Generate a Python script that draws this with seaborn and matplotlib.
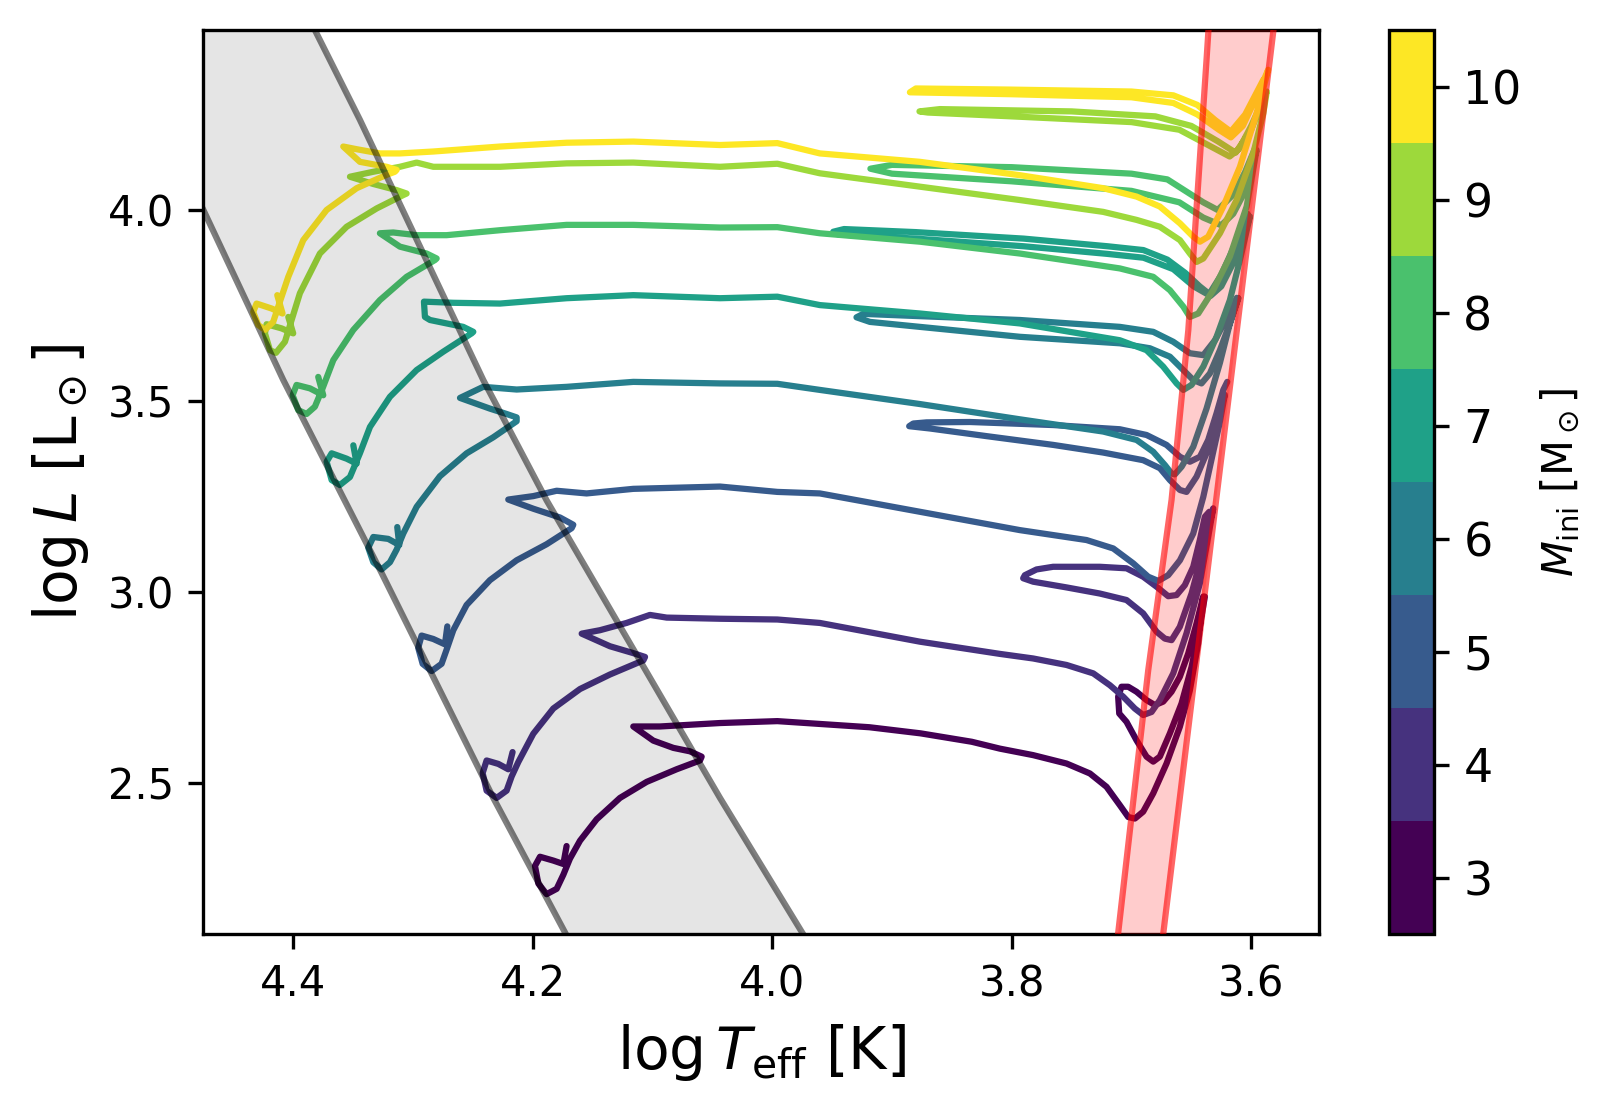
import matplotlib
matplotlib.use('Agg')
import matplotlib.pyplot as plt
import seaborn as sns
import pandas as pd
import numpy as np
from matplotlib.colors import BoundaryNorm
from matplotlib.cm import ScalarMappable

plt.rcParams['font.family'] = 'DejaVu Sans'
plt.rcParams['mathtext.fontset'] = 'dejavusans'
plt.rcParams['lines.solid_joinstyle'] = 'round'
plt.rcParams['lines.solid_capstyle'] = 'round'

# initial masses (Msun)
masses = [3, 4, 5, 6, 7, 8, 9, 10]

# evolutionary tracks: log Teff, log L
logT_3 = [4.1717, 4.1744, 4.1828, 4.1939, 4.1981, 4.1953, 4.1884, 4.1800, 4.1744, 4.1689, 4.1605, 4.1466,
          4.1271, 4.1048, 4.0798, 4.0603, 4.0589, 4.0687, 4.0826, 4.0993, 4.1160, 4.0937, 4.0659, 4.0436,
          3.9957, 3.9188, 3.8761, 3.8334, 3.8099, 3.7821, 3.7542, 3.7347, 3.7208, 3.7097, 3.7027, 3.6971,
          3.6902, 3.6818, 3.6707, 3.6596, 3.6512, 3.6443, 3.6401,
          3.6456, 3.6526, 3.6596, 3.6665, 3.6735, 3.6804, 3.6874, 3.6958, 3.7027, 3.7083, 3.7111, 3.7102,
          3.7041, 3.6958, 3.6874, 3.6818, 3.6763, 3.6679, 3.6582, 3.6498, 3.6429, 3.6387]
logL_3 = [2.335, 2.288, 2.297, 2.307, 2.283, 2.237, 2.209, 2.223, 2.260, 2.302, 2.349, 2.405,
          2.461, 2.503, 2.536, 2.559, 2.569, 2.583, 2.592, 2.611, 2.648, 2.648, 2.653, 2.657,
          2.662, 2.646, 2.630, 2.608, 2.590, 2.573, 2.551, 2.525, 2.490, 2.442, 2.411, 2.407,
          2.425, 2.473, 2.551, 2.647, 2.743, 2.865, 2.988,
          2.918, 2.839, 2.778, 2.739, 2.713, 2.704, 2.717, 2.739, 2.752, 2.752, 2.726, 2.682,
          2.660, 2.612, 2.569, 2.556, 2.569, 2.630, 2.708, 2.804, 2.909, 2.988]

logT_4 = [4.2168, 4.2204, 4.2287, 4.2385, 4.2418, 4.2385, 4.2301, 4.2218, 4.2176, 4.2120, 4.1995, 4.1828,
          4.1605, 4.1355, 4.1076, 4.1062, 4.1160, 4.1355, 4.1591, 4.1438, 4.1216, 4.1021, 4.0881, 4.0436,
          3.9957, 3.9602, 3.8767, 3.8099, 3.7821, 3.7542, 3.7319, 3.7180, 3.7069, 3.6972, 3.6902, 3.6832,
          3.6763, 3.6651, 3.6540, 3.6429, 3.6317,
          3.6401, 3.6498, 3.6596, 3.6665, 3.6721, 3.6790, 3.6902, 3.7041, 3.7264, 3.7542, 3.7821, 3.7904,
          3.7890, 3.7793, 3.7654, 3.7264, 3.7041, 3.6902, 3.6791, 3.6693, 3.6623, 3.6554, 3.6484, 3.6429,
          3.6387, 3.6350]
logL_4 = [2.581, 2.536, 2.550, 2.559, 2.526, 2.480, 2.461, 2.480, 2.517, 2.555, 2.629, 2.695,
          2.746, 2.784, 2.821, 2.830, 2.840, 2.858, 2.891, 2.900, 2.919, 2.940, 2.933, 2.930,
          2.928, 2.919, 2.870, 2.838, 2.826, 2.809, 2.787, 2.756, 2.726, 2.695, 2.678, 2.686,
          2.717, 2.787, 2.892, 3.022, 3.219,
          3.110, 2.996, 2.909, 2.874, 2.878, 2.896, 2.944, 2.979, 2.996, 3.012, 3.027, 3.036,
          3.044, 3.059, 3.066, 3.066, 3.062, 3.040, 3.014, 2.989, 2.992, 3.018, 3.066, 3.136,
          3.197, 3.210]

logT_5 = [4.2713, 4.2733, 4.2830, 4.2928, 4.2956, 4.2919, 4.2844, 4.2761, 4.2719, 4.2663, 4.2552, 4.2357,
          4.2134, 4.1884, 4.1675, 4.1661, 4.1772, 4.1995, 4.2204, 4.1995, 4.1800, 4.1550, 4.1160, 4.0436,
          3.9957, 3.9602, 3.8767, 3.7932, 3.7375, 3.7152, 3.6985, 3.6860, 3.6776, 3.6693, 3.6595, 3.6484,
          3.6400, 3.6320, 3.6265, 3.6220,
          3.6289, 3.6373, 3.6456, 3.6540, 3.6595, 3.6679, 3.6762, 3.6902, 3.7236, 3.7653, 3.8210, 3.8683,
          3.8856, 3.8822, 3.8711, 3.8349, 3.7653, 3.7097, 3.6874, 3.6707, 3.6595, 3.6512, 3.6428, 3.6359,
          3.6289, 3.6233, 3.6200]
logL_5 = [2.910, 2.863, 2.877, 2.886, 2.854, 2.812, 2.793, 2.812, 2.849, 2.900, 2.966, 3.031,
          3.083, 3.125, 3.167, 3.176, 3.195, 3.218, 3.242, 3.251, 3.265, 3.258, 3.270, 3.276,
          3.262, 3.258, 3.210, 3.162, 3.136, 3.114, 3.075, 3.040, 3.029, 3.044, 3.083, 3.153,
          3.249, 3.363, 3.440, 3.516,
          3.450, 3.363, 3.302, 3.262, 3.267, 3.293, 3.324, 3.345, 3.365, 3.385, 3.408, 3.428,
          3.434, 3.441, 3.444, 3.445, 3.437, 3.426, 3.411, 3.385, 3.354, 3.341, 3.354, 3.398,
          3.468, 3.529, 3.550]

logT_6 = [4.3131, 4.3114, 4.3206, 4.3331, 4.3373, 4.3331, 4.3262, 4.3192, 4.3136, 4.3081, 4.2969, 4.2775,
          4.2552, 4.2329, 4.2134, 4.2134, 4.2218, 4.2357, 4.2607, 4.2413, 4.2134, 4.1717, 4.1160, 4.0436,
          3.9957, 3.9602, 3.8767, 3.7932, 3.7236, 3.6957, 3.6818, 3.6720, 3.6665, 3.6637, 3.6581, 3.6484,
          3.6373, 3.6261, 3.6178, 3.6108,
          3.6178, 3.6261, 3.6345, 3.6415, 3.6484, 3.6567, 3.6679, 3.6846, 3.7097, 3.7932, 3.8767, 3.9184,
          3.9296, 3.9240, 3.8767, 3.7932, 3.7097, 3.6818, 3.6651, 3.6512, 3.6400, 3.6300, 3.6200, 3.6120]
logL_6 = [3.170, 3.123, 3.139, 3.144, 3.116, 3.078, 3.059, 3.078, 3.111, 3.153, 3.223, 3.303,
          3.363, 3.405, 3.447, 3.457, 3.466, 3.480, 3.508, 3.537, 3.530, 3.537, 3.550, 3.546,
          3.545, 3.529, 3.492, 3.452, 3.420, 3.398, 3.367, 3.332, 3.310, 3.308, 3.328, 3.380,
          3.480, 3.600, 3.703, 3.769,
          3.703, 3.633, 3.572, 3.546, 3.555, 3.581, 3.616, 3.638, 3.651, 3.668, 3.694, 3.707,
          3.719, 3.728, 3.722, 3.712, 3.694, 3.681, 3.655, 3.625, 3.620, 3.660, 3.720, 3.770]

logT_7 = [4.3498, 4.3470, 4.3554, 4.3679, 4.3721, 4.3679, 4.3610, 4.3526, 4.3443, 4.3359, 4.3192, 4.2969,
          4.2747, 4.2510, 4.2496, 4.2580, 4.2858, 4.2900, 4.2908, 4.2663, 4.2273, 4.1717, 4.1160, 4.0436,
          3.9957, 3.9602, 3.8767, 3.7932, 3.7097, 3.6874, 3.6735, 3.6623, 3.6567, 3.6498, 3.6400, 3.6289,
          3.6178, 3.6094, 3.6011,
          3.6120, 3.6250, 3.6340, 3.6480, 3.6650, 3.6900, 3.7200, 3.7900, 3.8800, 3.9450, 3.9490, 3.9400,
          3.8800, 3.7900, 3.7200, 3.6900, 3.6700, 3.6550, 3.6430, 3.6350, 3.6250, 3.6120, 3.6030]
logL_7 = [3.384, 3.336, 3.349, 3.363, 3.341, 3.293, 3.280, 3.301, 3.363, 3.432, 3.511, 3.581,
          3.629, 3.677, 3.681, 3.694, 3.712, 3.720, 3.760, 3.757, 3.755, 3.769, 3.777, 3.769,
          3.773, 3.751, 3.729, 3.703, 3.659, 3.633, 3.590, 3.546, 3.529, 3.542, 3.590, 3.668,
          3.764, 3.869, 3.983,
          3.880, 3.800, 3.775, 3.800, 3.845, 3.875, 3.885, 3.905, 3.925, 3.936, 3.943, 3.950,
          3.942, 3.925, 3.905, 3.895, 3.870, 3.835, 3.800, 3.780, 3.830, 3.920, 3.990]

logT_8 = [4.3791, 4.3749, 4.3860, 4.3972, 4.4005, 4.3958, 4.3888, 4.3819, 4.3755, 4.3665, 4.3498, 4.3276,
          4.3053, 4.2816, 4.2802, 4.2886, 4.3109, 4.3276, 4.3164, 4.2969, 4.2719, 4.2273, 4.1717, 4.1160,
          4.0436, 3.9957, 3.9602, 3.8767, 3.7932, 3.7097, 3.6818, 3.6679, 3.6567, 3.6512, 3.6442, 3.6317,
          3.6178, 3.6038, 3.5955,
          3.6050, 3.6150, 3.6250, 3.6400, 3.6600, 3.7000, 3.8000, 3.9000, 3.9180, 3.9000, 3.8000, 3.7000,
          3.6700, 3.6550, 3.6400, 3.6280, 3.6150, 3.6050, 3.5970]
logL_8 = [3.563, 3.515, 3.533, 3.542, 3.515, 3.476, 3.466, 3.485, 3.533, 3.607, 3.686, 3.764,
          3.825, 3.869, 3.873, 3.886, 3.904, 3.939, 3.941, 3.934, 3.934, 3.947, 3.961, 3.961,
          3.954, 3.955, 3.939, 3.917, 3.886, 3.847, 3.825, 3.790, 3.747, 3.720, 3.729, 3.790,
          3.878, 4.009, 4.157,
          4.050, 3.990, 3.960, 3.980, 4.020, 4.050, 4.075, 4.095, 4.108, 4.118, 4.112, 4.095,
          4.080, 4.050, 4.020, 4.000, 4.040, 4.100, 4.160]

logT_9 = [4.4041, 4.4000, 4.4097, 4.4222, 4.4236, 4.4194, 4.4144, 4.4069, 4.4022, 4.3944, 4.3777, 4.3554,
          4.3303, 4.3081, 4.3053, 4.3136, 4.3331, 4.3526, 4.3331, 4.3109, 4.2969, 4.2830, 4.2273, 4.1717,
          4.1160, 4.0436, 3.9957, 3.9602, 3.8767, 3.7932, 3.7236, 3.6957, 3.6763, 3.6595, 3.6512, 3.6456,
          3.6400, 3.6261, 3.6122, 3.5983, 3.5899, 3.5870,
          3.6000, 3.6100, 3.6180, 3.6300, 3.6600, 3.7000, 3.8000, 3.8700, 3.8770, 3.8600, 3.7500, 3.6800,
          3.6500, 3.6280, 3.6130, 3.6000, 3.5900]
logL_9 = [3.720, 3.677, 3.690, 3.701, 3.677, 3.633, 3.626, 3.655, 3.703, 3.782, 3.886, 3.956,
          4.004, 4.039, 4.043, 4.052, 4.068, 4.087, 4.100, 4.113, 4.124, 4.113, 4.113, 4.122,
          4.124, 4.113, 4.121, 4.096, 4.061, 4.026, 3.995, 3.974, 3.956, 3.921, 3.886, 3.864,
          3.873, 3.939, 4.026, 4.148, 4.253, 4.310,
          4.220, 4.160, 4.140, 4.160, 4.210, 4.230, 4.245, 4.255, 4.258, 4.264, 4.258, 4.245,
          4.220, 4.180, 4.150, 4.210, 4.290]

logT_10 = [4.4133, 4.4089, 4.4180, 4.4306, 4.4334, 4.4292, 4.4236, 4.4167, 4.4111, 4.4041, 4.3916, 4.3721,
           4.3470, 4.3220, 4.3151, 4.3136, 4.3220, 4.3443, 4.3582, 4.3470, 4.3276, 4.3109, 4.2830, 4.2273,
           4.1717, 4.1160, 4.0436, 3.9957, 3.9602, 3.8767, 3.7932, 3.7236, 3.6957, 3.6763, 3.6595, 3.6484,
           3.6428, 3.6359, 3.6233, 3.6094, 3.5955, 3.5858,
           3.5950, 3.6070, 3.6170, 3.6270, 3.6450, 3.6650, 3.7000, 3.8000, 3.8850, 3.8800, 3.8000, 3.7000,
           3.6650, 3.6450, 3.6300, 3.6170, 3.6050, 3.5900]
logL_10 = [3.777, 3.729, 3.742, 3.755, 3.733, 3.699, 3.686, 3.707, 3.760, 3.825, 3.921, 4.000,
           4.057, 4.092, 4.100, 4.105, 4.113, 4.126, 4.166, 4.159, 4.148, 4.148, 4.153, 4.166,
           4.176, 4.179, 4.170, 4.175, 4.148, 4.126, 4.091, 4.057, 4.035, 4.009, 3.965, 3.930,
           3.917, 3.930, 4.009, 4.113, 4.253, 4.367,
           4.300, 4.220, 4.190, 4.210, 4.250, 4.280, 4.295, 4.303, 4.308, 4.318, 4.315, 4.310,
           4.300, 4.275, 4.235, 4.205, 4.250, 4.340]

# main-sequence band edges (grey) and red-giant band edges (red)
ms_left_T = [4.570, 4.475, 4.4083, 4.3262, 4.2329, 4.1717, 4.1550]
ms_left_L = [4.600, 4.000, 3.555, 3.050, 2.461, 2.101, 2.000]
ms_right_T = [4.3950, 4.3819, 4.3443, 4.2413, 4.1884, 4.0436, 3.9741, 3.9550]
ms_right_L = [4.600, 4.471, 4.236, 3.555, 3.240, 2.461, 2.104, 2.000]
rg_left_T = [3.7150, 3.7112, 3.6860, 3.6665, 3.6525, 3.6373, 3.6330]
rg_left_L = [2.000, 2.104, 2.795, 3.241, 3.686, 4.393, 4.600]
rg_right_T = [3.6775, 3.6735, 3.5814, 3.5765]
rg_right_L = [2.000, 2.104, 4.471, 4.600]

tracks_T = [logT_3, logT_4, logT_5, logT_6, logT_7, logT_8, logT_9, logT_10]
tracks_L = [logL_3, logL_4, logL_5, logL_6, logL_7, logL_8, logL_9, logL_10]

rows = []
for m, tt, ll in zip(masses, tracks_T, tracks_L):
    for i, (t, l) in enumerate(zip(tt, ll)):
        rows.append({'mass': m, 'step': i, 'logT': t, 'logL': l})
df = pd.DataFrame(rows)

cmap = plt.get_cmap('viridis')
bounds = np.arange(2.5, 11.0, 1.0)
norm = BoundaryNorm(bounds, cmap.N)
palette = {m: cmap(norm(m)) for m in masses}

fig = plt.figure(figsize=(1604 / 300, 1112 / 300), dpi=300)
ax = fig.add_axes([0.1268, 0.1598, 0.6958, 0.8132])
cax = fig.add_axes([0.866, 0.1598, 0.0281, 0.8132])

sns.lineplot(data=df, x='logT', y='logL', hue='mass', units='mass', estimator=None,
             sort=False, palette=palette, legend=False, linewidth=1.5, ax=ax, zorder=2)

# grey MS band on top of the tracks
ax.fill(np.concatenate([ms_left_T, ms_right_T[::-1]]),
        np.concatenate([ms_left_L, ms_right_L[::-1]]),
        color='k', alpha=0.1, lw=0, zorder=3)
ax.plot(ms_left_T, ms_left_L, color='k', alpha=0.5, lw=1.5, zorder=4)
ax.plot(ms_right_T, ms_right_L, color='k', alpha=0.5, lw=1.5, zorder=4)

# red RGB band
ax.fill(np.concatenate([rg_left_T, rg_right_T[::-1]]),
        np.concatenate([rg_left_L, rg_right_L[::-1]]),
        color='red', alpha=0.2, lw=0, zorder=3)
ax.plot(rg_left_T, rg_left_L, color='red', alpha=0.6, lw=1.5, zorder=4)
ax.plot(rg_right_T, rg_right_L, color='red', alpha=0.6, lw=1.5, zorder=4)

ax.set_xlim(4.475, 3.543)
ax.set_ylim(2.104, 4.471)
ax.set_xticks([4.4, 4.2, 4.0, 3.8, 3.6])
ax.set_yticks([2.5, 3.0, 3.5, 4.0])
ax.tick_params(labelsize=10)
ax.set_xlabel(r'$\log T_\mathrm{eff}$ [K]', fontsize=14)
ax.set_ylabel(r'$\log L$ [L$_\odot$]', fontsize=14)

sm = ScalarMappable(norm=norm, cmap=cmap)
cb = fig.colorbar(sm, cax=cax, ticks=masses)
cb.minorticks_off()
cb.ax.tick_params(labelsize=11)
cb.set_label(r'$M_\mathrm{ini}$ [M$_\odot$]', fontsize=10)

fig.savefig('out.png', dpi=300)
